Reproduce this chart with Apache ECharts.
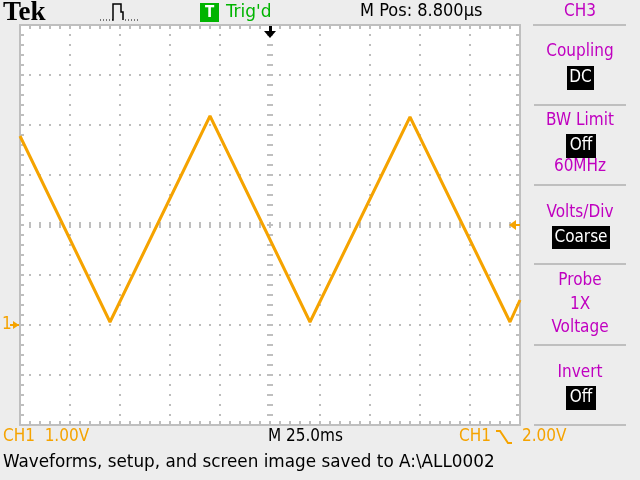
<!DOCTYPE html>
<html><head><meta charset="utf-8">
<script src="https://cdn.jsdelivr.net/npm/echarts@6/dist/echarts.min.js"></script>
<style>html,body{margin:0;padding:0;background:#EDEDED}#c{width:640px;height:480px}</style>
</head><body><div id="c"></div><script>
// ---- data (CH1, 1.00 V/div, 25.0 ms/div) ----
const timeMs = [-125, -80, -30, 20, 70, 120, 125];
const ch1Volts = [3.78, 0.06, 4.18, 0.06, 4.16, 0.06, 0.5];
const xMin = -125, xMax = 125, xDiv = 25;   // ms
const yMin = -2, yMax = 6, yDiv = 1;        // V

// ---- texts ----
const topTexts = { brand: 'Tek', trig: "Trig'd", trigBadge: 'T', mpos: 'M Pos: 8.800\u00b5s', menuTitle: 'CH3' };
const menuLabels = ['Coupling', 'BW Limit', 'Volts/Div', 'Probe', 'Invert'];
const menuValues = ['DC', 'Off', 'Coarse', '1X', 'Off'];
const menuExtra = ['60MHz', 'Voltage'];
const bottomTexts = { ch1: 'CH1  1.00V', time: 'M 25.0ms', trigCh: 'CH1', trigLevel: '2.00V',
  status: 'Waveforms, setup, and screen image saved to A:\\ALL0002' };

const ORANGE = '#F5A300', MAGENTA = '#C000C0', GREEN = '#00B400', FRAME = '#BFBFBF', DOT = '#BDBDBD';
const FONT = '"DejaVu Sans Condensed", "Liberation Sans Narrow", "Roboto", sans-serif';
const F17 = '17px ' + FONT;

function axisBase(min, max, interval) {
  return { type: 'value', min: min, max: max, interval: interval, axisLabel: { show: false },
    splitLine: { show: false }, axisLine: { show: false, onZero: false },
    axisTick: { show: false }, minorTick: { show: false } };
}
function tickStyle(inside, len) {
  return {
    axisTick: { show: true, inside: inside, length: len, lineStyle: { color: FRAME, width: 2 } },
    minorTick: { show: true, splitNumber: 5, length: len, lineStyle: { color: FRAME, width: 2 } }
  };
}
const dotted = { show: true, lineStyle: { color: DOT, width: 2, type: [2, 8], dashOffset: 1 } };

const xAxes = [
  Object.assign(axisBase(xMin, xMax, xDiv), { position: 'bottom',
    axisLine: { show: true, onZero: false, lineStyle: { color: FRAME, width: 2 } }, splitLine: dotted }, tickStyle(true, 4)),
  Object.assign(axisBase(xMin, xMax, xDiv), { position: 'top',
    axisLine: { show: true, onZero: false, lineStyle: { color: FRAME, width: 2 } } }, tickStyle(true, 4)),
  Object.assign(axisBase(xMin, xMax, xDiv), { position: 'bottom',
    axisLine: { show: false, onZero: true, onZeroAxisIndex: 1 } }, tickStyle(false, 3)),
  Object.assign(axisBase(xMin, xMax, xDiv), { position: 'bottom',
    axisLine: { show: false, onZero: true, onZeroAxisIndex: 1 } }, tickStyle(true, 3))
];
const yAxes = [
  Object.assign(axisBase(yMin, yMax, yDiv), { position: 'left',
    axisLine: { show: true, onZero: false, lineStyle: { color: FRAME, width: 2 } }, splitLine: dotted }, tickStyle(true, 4)),
  Object.assign(axisBase(-4, 4, yDiv), { position: 'right',
    axisLine: { show: true, onZero: false, lineStyle: { color: FRAME, width: 2 } } }, tickStyle(true, 4)),
  Object.assign(axisBase(yMin, yMax, yDiv), { position: 'left',
    axisLine: { show: false, onZero: true, onZeroAxisIndex: 0 } }, tickStyle(false, 3)),
  Object.assign(axisBase(yMin, yMax, yDiv), { position: 'left',
    axisLine: { show: false, onZero: true, onZeroAxisIndex: 0 } }, tickStyle(true, 3))
];

function txt(x, y, s, fill, font, align, sx) {
  return { type: 'text', x: x, y: y, z: 10, scaleX: sx || 1, style: { text: s, fill: fill, font: font || F17,
    align: align || 'left', verticalAlign: 'middle' } };
}
function box(x, y, w, h, fill) {
  return { type: 'rect', z: 9, shape: { x: x, y: y, width: w, height: h }, style: { fill: fill } };
}
function hline(x1, x2, y) {
  return { type: 'line', z: 9, shape: { x1: x1, y1: y, x2: x2, y2: y }, style: { stroke: FRAME, lineWidth: 2 } };
}

const graphics = [
  // top bar
  txt(3, 13, topTexts.brand, '#000', 'bold 27px "Liberation Serif", serif'),
  { type: 'line', z: 9, shape: { x1: 100, y1: 20, x2: 112, y2: 20 }, style: { stroke: '#000', lineWidth: 1, lineDash: [1, 2] } },
  { type: 'polyline', z: 9, shape: { points: [[112, 20], [113, 20], [113, 4], [121, 4], [121, 12], [123, 12], [123, 20]] }, style: { stroke: '#000', lineWidth: 1.5, fill: null } },
  { type: 'line', z: 9, shape: { x1: 125, y1: 20, x2: 138, y2: 20 }, style: { stroke: '#000', lineWidth: 1, lineDash: [1, 2] } },
  box(200, 3, 19, 19, GREEN),
  txt(209.5, 13, topTexts.trigBadge, '#FFFFFF', 'bold 15px ' + FONT, 'center'),
  txt(226, 12, topTexts.trig, GREEN, '18px ' + FONT, 'left', 1.05),
  txt(360, 12, topTexts.mpos, '#000', F17, 'left', 1.06),
  txt(580, 12, topTexts.menuTitle, MAGENTA, F17, 'center'),
  hline(533, 626, 25),
  // trigger position marker (top)
  { type: 'polygon', z: 9, shape: { points: [[264, 31], [276, 31], [270, 38]] }, style: { fill: '#000' } },
  { type: 'rect', z: 9, shape: { x: 269, y: 26, width: 3, height: 6 }, style: { fill: '#000' } },
  // CH1 ground marker
  txt(2, 325, '1', ORANGE, F17),
  { type: 'polygon', z: 9, shape: { points: [[13, 321], [19, 325], [13, 329]] }, style: { fill: ORANGE } },
  { type: 'line', z: 9, shape: { x1: 10, y1: 325, x2: 19, y2: 325 }, style: { stroke: ORANGE, lineWidth: 2 } },
  // trigger level marker
  { type: 'polygon', z: 11, shape: { points: [[509, 225], [516, 220], [516, 230]] }, style: { fill: ORANGE } },
  { type: 'line', z: 11, shape: { x1: 515, y1: 225, x2: 520, y2: 225 }, style: { stroke: ORANGE, lineWidth: 2 } },
  // right menu
  txt(580, 52, menuLabels[0], MAGENTA, F17, 'center'),
  box(567, 66, 27, 24, '#000'), txt(580.5, 78, menuValues[0], '#FFF', F17, 'center'),
  hline(534, 626, 105),
  txt(580, 121, menuLabels[1], MAGENTA, F17, 'center'),
  box(566, 134, 30, 24, '#000'), txt(581, 146, menuValues[1], '#FFF', F17, 'center'),
  txt(580, 167, menuExtra[0], MAGENTA, F17, 'center'),
  hline(534, 626, 185),
  txt(580, 213, menuLabels[2], MAGENTA, F17, 'center'),
  box(552, 226, 58, 23, '#000'), txt(581, 237.5, menuValues[2], '#FFF', F17, 'center'),
  hline(534, 626, 264),
  txt(580, 281, menuLabels[3], MAGENTA, F17, 'center'),
  txt(580, 305, menuValues[3], MAGENTA, F17, 'center'),
  txt(580, 328, menuExtra[1], MAGENTA, F17, 'center'),
  hline(534, 626, 345),
  txt(580, 373, menuLabels[4], MAGENTA, F17, 'center'),
  box(566, 386, 30, 24, '#000'), txt(581, 398, menuValues[4], '#FFF', F17, 'center'),
  hline(534, 626, 425),
  // bottom
  txt(3, 437, bottomTexts.ch1, ORANGE, F17),
  txt(268, 437, bottomTexts.time, '#000', F17),
  txt(459, 437, bottomTexts.trigCh, ORANGE, F17),
  { type: 'polyline', z: 9, shape: { points: [[496, 431], [500, 431], [508, 443], [512, 443]] }, style: { stroke: ORANGE, lineWidth: 2, fill: null } },
  txt(522, 437, bottomTexts.trigLevel, ORANGE, F17),
  txt(3, 463, bottomTexts.status, '#000', F17, 'left', 1.1)
];

const chart = echarts.init(document.getElementById('c'), null, { renderer: 'canvas' });
chart.setOption({
  animation: false,
  backgroundColor: '#EDEDED',
  grid: { left: 20, right: 120, top: 25, bottom: 55, containLabel: false, show: true, backgroundColor: '#FFFFFF', borderWidth: 0 },
  xAxis: xAxes,
  yAxis: yAxes,
  series: [{
    type: 'line', xAxisIndex: 0, yAxisIndex: 0, showSymbol: false, symbol: 'none', z: 5,
    data: timeMs.map((t, i) => [t, ch1Volts[i]]),
    lineStyle: { color: ORANGE, width: 3 }
  }],
  graphic: graphics
});
</script></body></html>
